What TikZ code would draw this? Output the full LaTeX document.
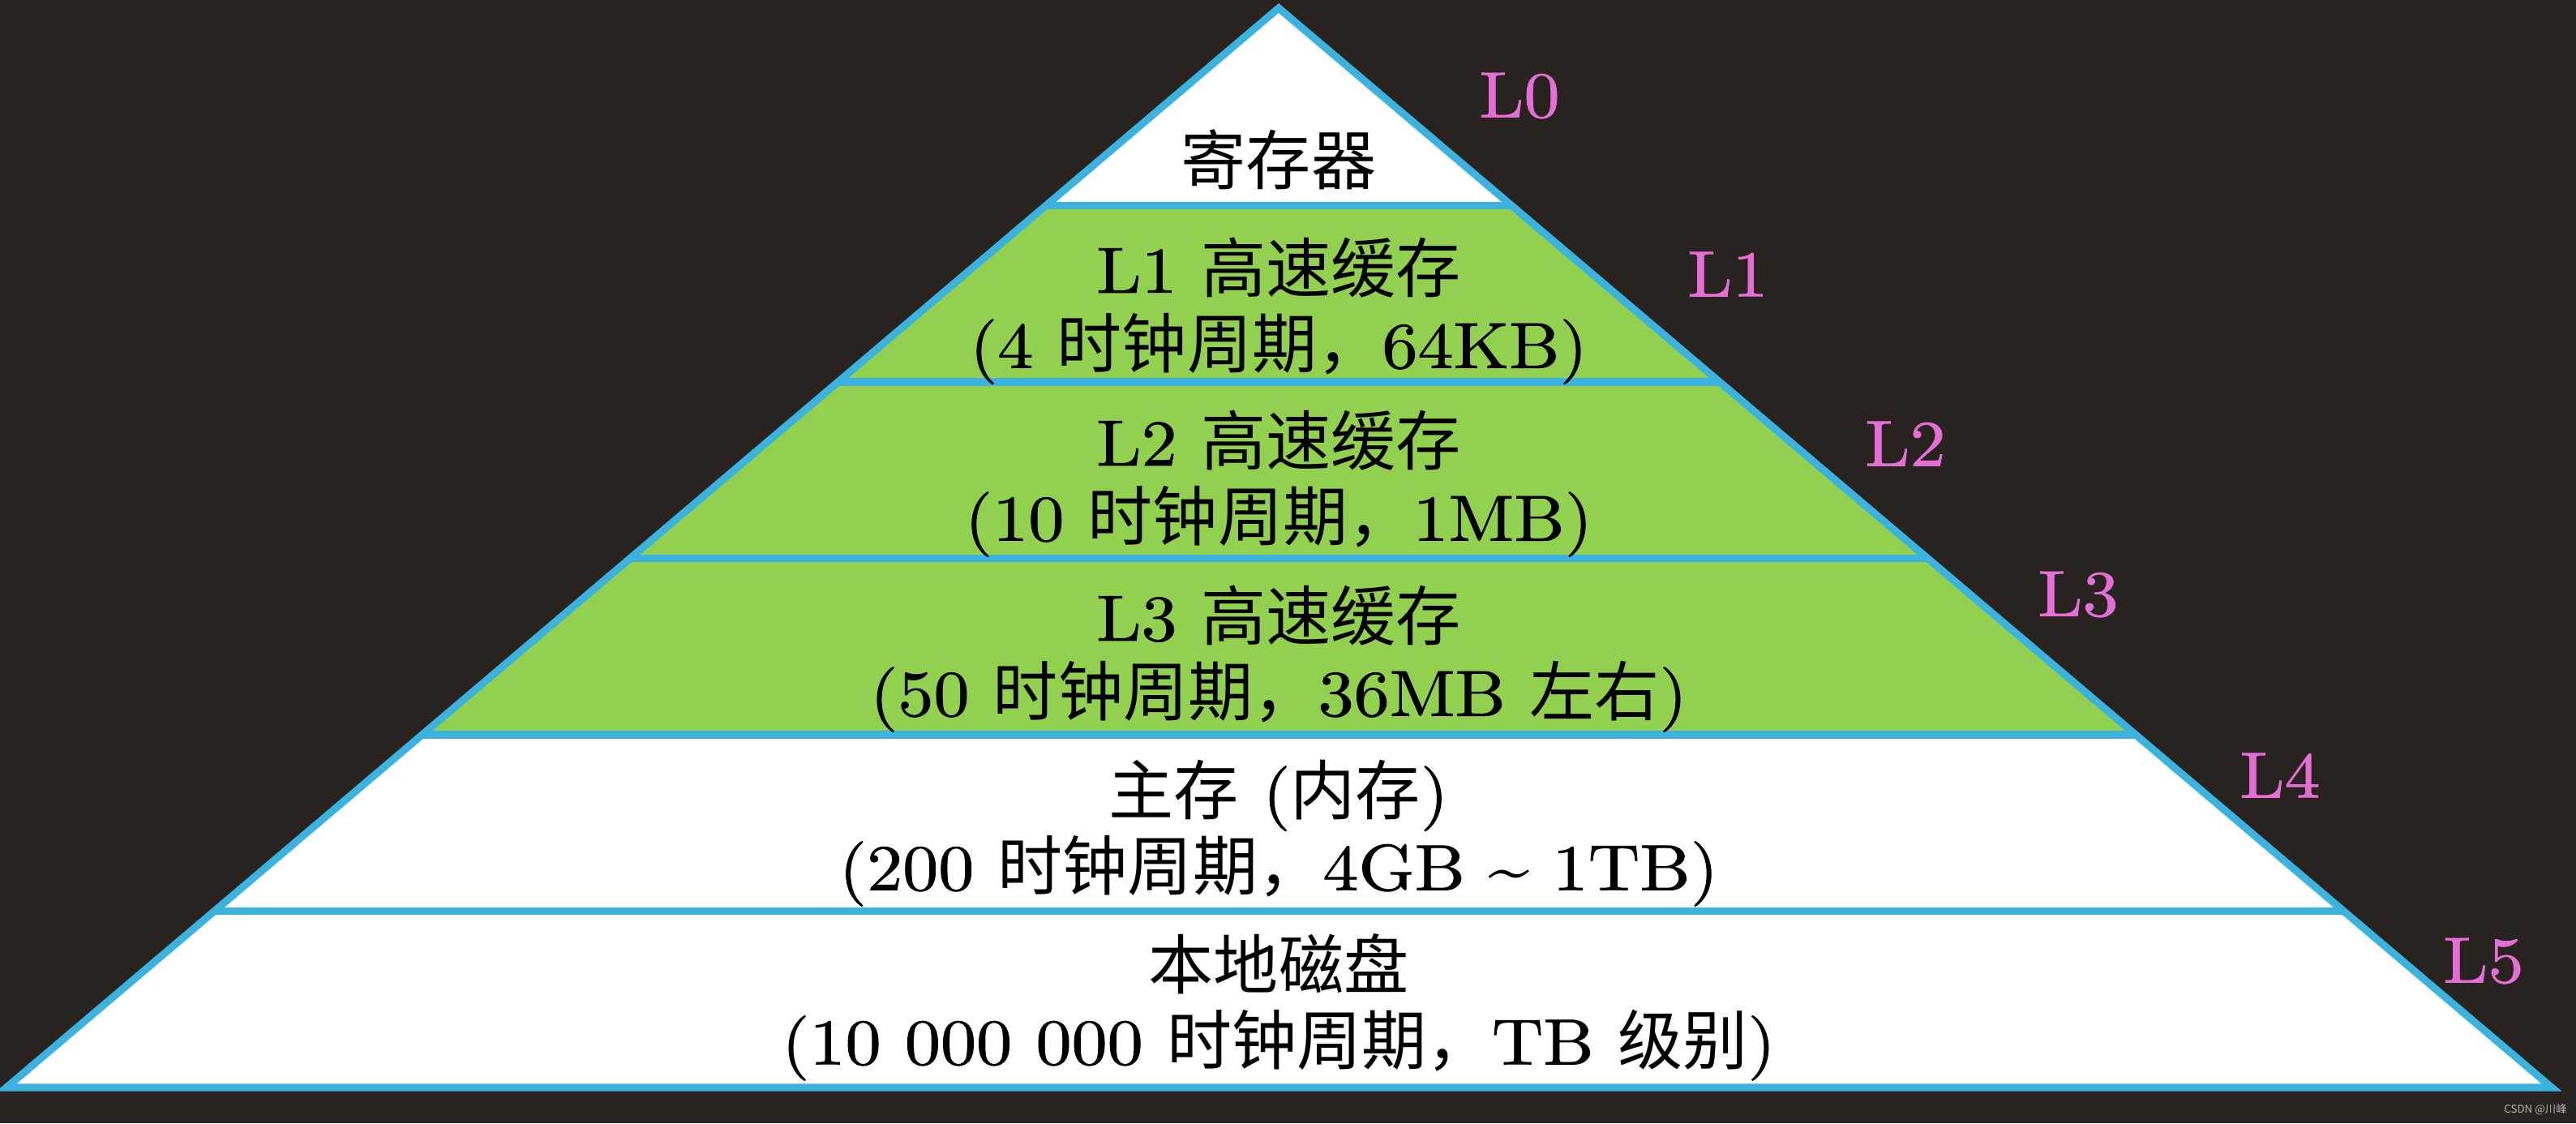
\documentclass[tikz,border=0pt]{standalone}
\usepackage{fontspec}
\usepackage{xcolor}
\usetikzlibrary{calc}
\setmainfont{lmroman10-regular.otf}[FakeStretch=1.10, FakeBold=1]
\newfontfamily\cjk{Noto Sans CJK SC}
\newcommand{\zh}[1]{{\cjk #1}}
\definecolor{bgcol}{HTML}{28231F}
\definecolor{edgecol}{HTML}{3CB3DF}
\definecolor{cachecol}{HTML}{92D14F}
\definecolor{lvlcol}{HTML}{E46ED6}

\begin{document}
\begin{tikzpicture}[
  layertext/.style={font=\fontsize{22.8}{26.4}\selectfont, align=center, text=black},
  lvllabel/.style={font=\fontsize{22.8}{26.4}\selectfont, text=lvlcol},
  divider/.style={draw=edgecol, line width=2.6pt},
  wmtext/.style={font=\fontsize{3.8}{4.2}\selectfont, text=black!30},
]

% =================== background ===================
\fill[bgcol] (0,0) rectangle (31.77,13.85);
\useasboundingbox (0,0) rectangle (31.77,13.85);

% =================== pyramid corners and level points ===================
\coordinate (apex) at (15.77,13.75);
\coordinate (bl) at (0.08,0.44);
\coordinate (br) at (31.47,0.44);
\foreach \i/\t in {1/0.183,2/0.3464,3/0.5098,4/0.6732,5/0.8366,6/1}{
  \coordinate (l\i) at ($(apex)!\t!(bl)$);
  \coordinate (r\i) at ($(apex)!\t!(br)$);
}

% =================== bands ===================
\fill[white] (apex) -- (r1) -- (l1) -- cycle;
\fill[cachecol] (l1) -- (r1) -- (r4) -- (l4) -- cycle;
\fill[white] (l4) -- (r4) -- (r6) -- (l6) -- cycle;

\foreach \i in {1,...,5} \draw[divider] (l\i) -- (r\i);
\draw[divider, line join=miter] (apex) -- (br) -- (bl) -- cycle;

% =================== layer texts ===================
\node[layertext] (reg) at (15.77, 11.88) {\zh{寄存器}};
\node[layertext] (lone) at (15.77, 10.015) {L1 \zh{高速缓存}\\(4 \zh{时钟周期，}64KB)};
\node[layertext] (ltwo) at (15.77, 7.885) {L2 \zh{高速缓存}\\(10 \zh{时钟周期，}1MB)};
\node[layertext] (lthree) at (15.77, 5.725) {L3 \zh{高速缓存}\\(50 \zh{时钟周期，}36MB \zh{左右})};
\node[layertext] (mem) at (15.77, 3.575) {\zh{主存} (\zh{内存})\\(200 \zh{时钟周期，}4GB \textasciitilde{} 1TB)};
\node[layertext] (disk) at (15.77, 1.43) {\zh{本地磁盘}\\(10 000 000 \zh{时钟周期，}TB \zh{级别})};

% =================== level labels ===================
\node[lvllabel] (lvl0) at (18.74, 12.67) {L0};
\node[lvllabel] (lvl1) at (21.31, 10.47) {L1};
\node[lvllabel] (lvl2) at (23.50, 8.38) {L2};
\node[lvllabel] (lvl3) at (25.63, 6.52) {L3};
\node[lvllabel] (lvl4) at (28.12, 4.29) {L4};
\node[lvllabel] (lvl5) at (30.63, 2.00) {L5};

% watermark
\node[wmtext] (wm) at (31.27, 0.17) {\zh{CSDN @川峰}};

\end{tikzpicture}
\end{document}
